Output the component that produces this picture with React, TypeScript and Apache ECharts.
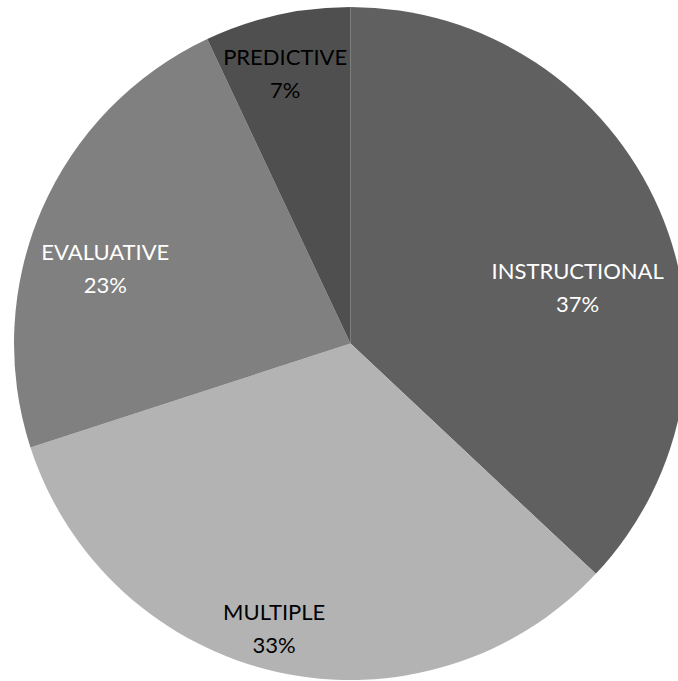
import React, { useEffect, useRef } from "react";
import * as echarts from "echarts";

// Question categories and their share (percent)
const categories = ["INSTRUCTIONAL", "MULTIPLE", "EVALUATIVE", "PREDICTIVE"];
const shares = [37, 33, 23, 7];
const sliceColors = ["#606060", "#b3b3b3", "#808080", "#4f4f4f"];
const labelColors = ["#ffffff", "#000000", "#ffffff", "#000000"];
// Nudges applied to each label from its default inside position
const labelShift = [
  [70, 12],
  [-39, 117],
  [-88, -7],
  [-28, -103],
];

export default function App() {
  const ref = useRef<HTMLDivElement>(null);

  useEffect(() => {
    if (!ref.current) return;
    const chart = echarts.init(ref.current, undefined, { renderer: "svg" });
    chart.setOption({
      animation: false,
      backgroundColor: "#ffffff",
      series: [
        {
          type: "pie",
          center: [350.5, 343.5],
          radius: [0, 336.5],
          startAngle: 90,
          clockwise: true,
          avoidLabelOverlap: false,
          itemStyle: { borderWidth: 0 },
          label: {
            show: true,
            position: "inside",
            formatter: "{b}\n{d}%",
            fontFamily: "Lato",
            fontSize: 22,
            lineHeight: 33,
            align: "center",
          },
          labelLine: { show: false },
          labelLayout: (params: any) => ({
            dx: labelShift[params.dataIndex][0],
            dy: labelShift[params.dataIndex][1],
          }),
          data: categories.map((name, i) => ({
            name,
            value: shares[i],
            itemStyle: { color: sliceColors[i] },
            label: { color: labelColors[i] },
          })),
        },
      ],
    });
    return () => chart.dispose();
  }, []);

  return (
    <div
      ref={ref}
      style={{ position: "fixed", left: 0, top: 0, width: 678, height: 681 }}
    />
  );
}
